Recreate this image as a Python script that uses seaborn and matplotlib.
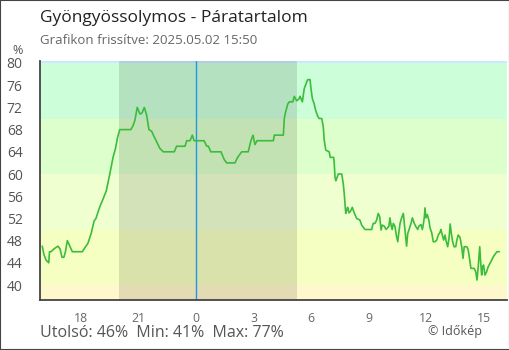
import numpy as np
import pandas as pd
import matplotlib
matplotlib.use("Agg")
import matplotlib.pyplot as plt
import seaborn as sns

# ---- data (hours relative to midnight, humidity %) ----
hours = [-8.01, -7.92, -7.81, -7.67, -7.63, -7.55, -7.40, -7.19, -7.08, -6.98, -6.88, -6.80,
         -6.70, -6.61, -6.44, -5.92, -5.83, -5.73, -5.63, -5.45, -5.31, -5.21, -5.02, -4.84,
         -4.67, -4.49, -4.32, -4.20, -4.09, -3.97, -3.39, -3.28, -3.18, -3.06, -2.92, -2.81,
         -2.69, -2.57, -2.45, -2.31, -2.19, -2.05, -1.88, -1.70, -1.13, -1.01, -0.57, -0.48,
         -0.31, -0.19, -0.10, 0.00, 0.42, 0.56, 0.65, 0.77, 1.30, 1.47, 1.60, 2.03, 2.17,
         2.38, 2.72, 2.86, 2.97, 3.07, 3.18, 4.03, 4.08, 4.55, 4.60, 4.67, 4.78, 4.86, 5.04,
         5.12, 5.24, 5.36, 5.42, 5.54, 5.64, 5.77, 5.82, 5.94, 5.99, 6.06, 6.15, 6.23, 6.32,
         6.41, 6.55, 6.63, 6.68, 6.76, 6.94, 6.99, 7.17, 7.20, 7.24, 7.28, 7.33, 7.41, 7.59,
         7.67, 7.72, 7.76, 7.80, 7.85, 7.90, 7.97, 8.05, 8.14, 8.24, 8.37, 8.54, 8.63, 8.80,
         9.15, 9.23, 9.32, 9.41, 9.49, 9.57, 9.64, 9.70, 9.81, 9.90, 9.98, 10.05, 10.10, 10.16,
         10.22, 10.28, 10.36, 10.45, 10.51, 10.57, 10.63, 10.71, 10.80, 10.85, 10.92, 10.97,
         11.03, 11.09, 11.20, 11.27, 11.37, 11.44, 11.55, 11.61, 11.72, 11.79, 11.84, 11.89,
         11.93, 11.98, 12.05, 12.14, 12.19, 12.28, 12.36, 12.45, 12.54, 12.62, 12.71, 12.76,
         12.83, 12.90, 12.97, 13.04, 13.11, 13.18, 13.24, 13.30, 13.37, 13.44, 13.53, 13.59,
         13.66, 13.75, 13.84, 13.91, 13.97, 14.11, 14.18, 14.26, 14.32, 14.49, 14.57, 14.64,
         14.70, 14.78, 14.83, 14.88, 14.93, 14.98, 15.05, 15.14, 15.22, 15.36, 15.49, 15.61,
         15.68, 15.80]
humidity = [47, 45.5, 44.5, 44, 46, 46, 46.5, 47, 46.5, 45, 45, 46,
            48, 47.3, 46, 46, 46.5, 47, 47.5, 49.4, 51.5, 52, 54, 55.5,
            57, 60, 63, 64.5, 66.5, 68, 68, 68.7, 69.7, 72, 70.8, 71,
            72, 70.6, 68, 67.7, 66.8, 65.8, 64.6, 64, 64, 65, 65, 66,
            66, 67, 66, 66, 66, 65, 65, 64, 64, 62.6, 62, 62, 63,
            64, 64, 66, 67, 65.3, 66, 66, 67, 67, 70, 71.2, 72.6, 73, 73,
            74, 73.2, 73.5, 74, 73, 75.4, 76.6, 77, 77, 75.4, 73.6, 72.7, 71.5, 70.6,
            70, 70, 68.5, 66.1, 64.3, 64, 63, 63, 62, 59.5, 58.8, 59.2, 60, 60,
            58.3, 56.5, 54.7, 52.9, 53.5, 54, 53, 53.3, 54, 53, 52, 51.7, 50.8, 50,
            50, 51.1, 51.1, 51.7, 52.9, 52.3, 49.9, 50.8, 50.6, 50, 50.3, 50.6, 52.1, 50.8,
            50, 51.1, 50.6, 48.7, 47.8, 49.6, 51.1, 52.1, 52.9, 51.1, 48.7, 47,
            49.3, 49.9, 51.1, 52.1, 51.1, 50.6, 50, 50.6, 50.9, 50, 50.9, 52.1,
            53.9, 52.1, 52.7, 51.5, 50.3, 49.4, 47.8, 47.8, 48.1, 49, 49.5, 50,
            49, 48.1, 49, 47.8, 46.9, 48.4, 51, 49.3, 47.8, 46.9, 46.9, 48.1,
            49, 48.6, 46.9, 44.8, 46.9, 46.9, 46.3, 44.5, 43, 43, 42.4, 40.9,
            43.3, 46.9, 44, 41.8, 43.3, 43.6, 41.8, 42.4, 43.3, 44.2, 45.1, 45.7,
            46, 46]

tick_hours = [-6, -3, 0, 3, 6, 9, 12, 15]
tick_labels = ["18", "21", "0", "3", "6", "9", "12", "15"]
y_ticks = list(range(40, 81, 4))
band_edges = [30, 40, 50, 60, 70, 80, 90]
band_colors = ["#fff8cc", "#f6ffc2", "#efffd0", "#ddffcc", "#ccffd9", "#cce8ff"]
night_start, night_end = -4.0, 5.28

title = "Gyöngyössolymos - Páratartalom"
subtitle = "Grafikon frissítve: 2025.05.02 15:50"
footer = "Utolsó: 46%  Min: 41%  Max: 77%"
credit = "© Időkép"

df = pd.DataFrame({"t": hours, "h": humidity})

sns.set_style("white")
plt.rcParams["font.family"] = ["Open Sans", "DejaVu Sans"]

W, H = 510, 350
fig = plt.figure(figsize=(W / 100, H / 100), dpi=100)
fig.patch.set_facecolor("white")
ax = fig.add_axes([40 / W, 1 - 300 / H, 467 / W, 239 / H])

ax.set_xlim(-8.125, 16.2)
ax.set_ylim(37.3, 80.36)

for lo, hi, c in zip(band_edges[:-1], band_edges[1:], band_colors):
    ax.axhspan(lo, hi, color=c, lw=0, zorder=0)
ax.axvspan(night_start, night_end, color="black", alpha=0.115, lw=0, zorder=1)
ax.axvline(0, color="#2196e8", lw=1.0, zorder=2)

sns.lineplot(data=df, x="t", y="h", ax=ax, color="#3cbc3c", lw=1.2, zorder=3)

ax.set_xticks(tick_hours)
ax.set_xticklabels(tick_labels)
ax.set_yticks(y_ticks)
ax.set_xlabel("")
ax.set_ylabel("")
for s in ["top", "right"]:
    ax.spines[s].set_visible(False)
for s in ["left", "bottom"]:
    ax.spines[s].set_color("#444444")
    ax.spines[s].set_linewidth(1.3)
ax.tick_params(axis="y", direction="inout", length=9, width=1.2, color="#444444",
               labelsize=10, labelcolor="#555555", pad=8)
ax.tick_params(axis="x", direction="in", length=5, width=1.2, color="#444444",
               labelsize=8.8, labelcolor="#666666", pad=9)
ax.grid(False)

fig.text(40.5 / W, 1 - 18 / H, title, fontsize=12.5, color="#222222", va="center", ha="left")
fig.text(40.5 / W, 1 - 41 / H, subtitle, fontsize=9.5, color="#666666", va="center", ha="left")
fig.text(17.5 / W, 1 - 50 / H, "%", fontsize=9, color="#555555", va="center", ha="center")
fig.text(40.5 / W, 1 - 333 / H, footer, fontsize=11.5, color="#555555", va="center", ha="left")
fig.text(482 / W, 1 - 331.5 / H, credit, fontsize=9, color="#555555", va="center", ha="right")

border = plt.Rectangle((0, 0), 1, 1, transform=fig.transFigure, fill=False,
                       edgecolor="#444444", lw=1.5)
fig.add_artist(border)

fig.savefig("out.png", dpi=100)
